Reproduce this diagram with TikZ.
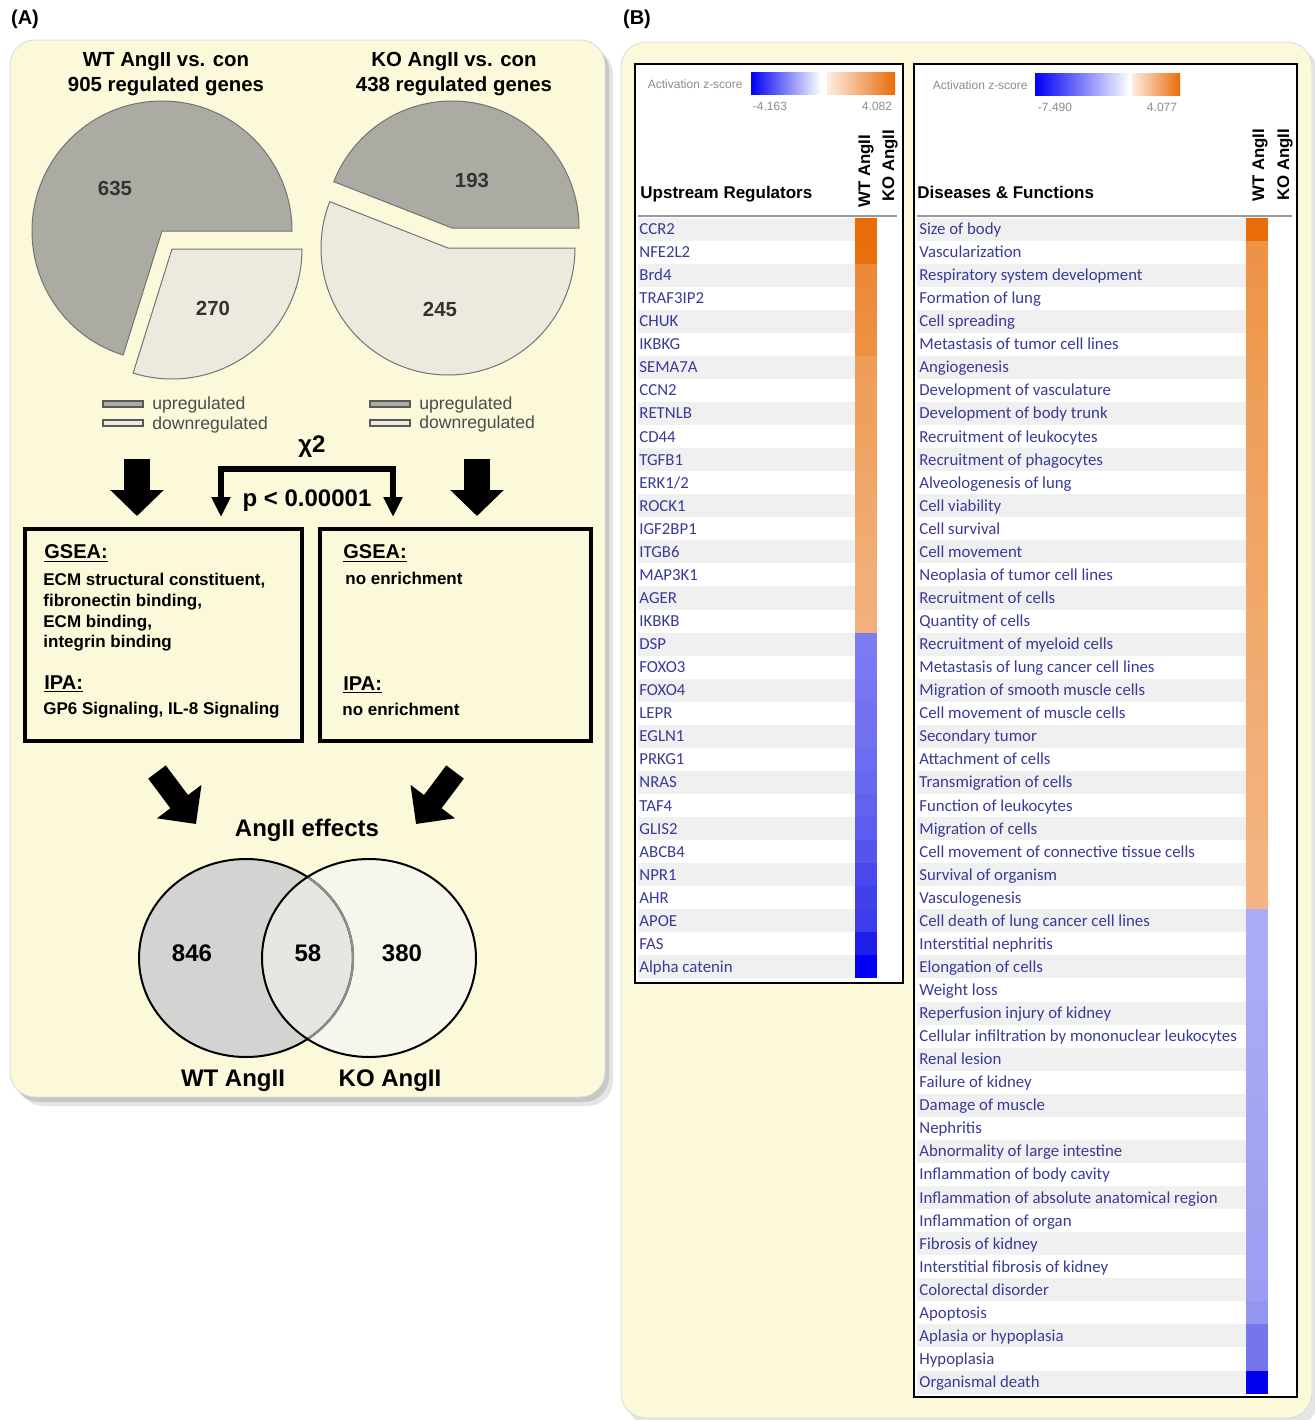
\documentclass[tikz,border=0pt]{standalone}
\usepackage{fontspec}
\setmainfont{Liberation Sans}
\newfontfamily\ipafont{Carlito}
\usepackage{tikz}
\usetikzlibrary{arrows.meta,calc,positioning}
\definecolor{PanelYellow}{RGB}{251,249,218}
\definecolor{SliceDark}{RGB}{171,171,164}
\definecolor{SliceLight}{RGB}{236,234,223}
\definecolor{VennDark}{RGB}{211,211,209}
\definecolor{VennMid}{RGB}{230,230,226}
\definecolor{VennLight}{RGB}{246,246,236}
\definecolor{RowBlue}{RGB}{58,58,152}
\definecolor{StripeGray}{RGB}{240,240,240}
\definecolor{ZOrange}{RGB}{233,108,10}
\definecolor{ZBlue}{RGB}{0,0,245}

\begin{document}
\begin{tikzpicture}[x=0.5pt,y=-0.5pt,
    paneltag/.style={font=\bfseries\fontsize{10}{12}\selectfont},
    headtxt/.style={font=\bfseries\fontsize{10.2}{12.5}\selectfont,align=center},
    pienum/.style={font=\bfseries\fontsize{10.2}{12}\selectfont,text=black!80},
    pieup/.style={fill=SliceDark,draw=black!55,line width=0.5pt},
    piedown/.style={fill=SliceLight,draw=black!55,line width=0.5pt},
    legtxt/.style={anchor=west,inner sep=0pt,font=\fontsize{8.8}{10}\selectfont,text=black!70},
    blockdown/.style={line width=13pt,-{Triangle[width=26pt,length=13pt]}},
    blockdiag/.style={line width=11pt,-{Triangle[width=27pt,length=14pt]}},
    resbox/.style={draw,line width=2pt,minimum height=106pt,inner sep=0pt},
    boxhead/.style={anchor=base west,inner sep=0pt,font=\bfseries\fontsize{10}{12}\selectfont},
    boxtxt/.style={anchor=north west,inner sep=0pt,align=left,font=\bfseries\fontsize{8.5}{10.35}\selectfont},
    bigtxt/.style={font=\bfseries\fontsize{12}{14}\selectfont},
    zlabel/.style={font=\fontsize{6}{7}\selectfont,text=black!45,inner sep=0pt},
    colhead/.style={rotate=90,anchor=west,inner sep=0pt,font=\bfseries\fontsize{8.4}{10}\selectfont},
    tablehead/.style={anchor=base west,inner sep=0pt,font=\bfseries\fontsize{8.5}{10}\selectfont},
    rowlabel/.style={anchor=base west,inner sep=0pt,font=\ipafont\fontsize{8.4}{9}\selectfont,text=RowBlue}]
\useasboundingbox (0,0) rectangle (1314,1420);

% panel backgrounds
\fill[black!10,rounded corners=12.5pt] (18,49) rectangle (613,1106);
\fill[black!22,rounded corners=12.5pt] (14,45) rectangle (609,1102);
\filldraw[fill=PanelYellow,draw=black!15,rounded corners=12.5pt] (10,40) rectangle (605,1097);
\fill[black!10,rounded corners=12.5pt] (627,48) rectangle (1318,1426);
\filldraw[fill=PanelYellow,draw=black!15,rounded corners=12.5pt] (621,42) rectangle (1312,1418);

\node[paneltag] (tagA) at (25,19) {(A)};
\node[paneltag] (tagB) at (637,19) {(B)};

% ---------- (A) pies
\node[headtxt] (wtTitle) at (166,74) {WT AngII vs. con\\905 regulated genes};
\node[headtxt] (koTitle) at (454,74) {KO AngII vs. con\\438 regulated genes};

\coordinate (wtUp) at (162,231);
\coordinate (wtDown) at (172,249);
\filldraw[pieup] (wtUp) -- ++(130,0) arc[start angle=0,end angle=-252.6,radius=130] -- cycle;
\filldraw[piedown] (wtDown) -- ++(130,0) arc[start angle=0,end angle=107.4,radius=130] -- cycle;
\coordinate (koUp) at (452,228);
\coordinate (koDown) at (448,248);
\filldraw[pieup] (koUp) -- ++(127,0) arc[start angle=0,end angle=-158.6,radius=127] -- cycle;
\filldraw[piedown] (koDown) -- ++(127,0) arc[start angle=0,end angle=201.4,radius=127] -- cycle;

\node[pienum] (n635) at (115,188) {635};
\node[pienum] (n270) at (213,308) {270};
\node[pienum] (n193) at (472,180) {193};
\node[pienum] (n245) at (440,309) {245};

% legends
\foreach \lx in {103,370}{
  \filldraw[fill=SliceDark,draw=black!65,line width=0.8pt] (\lx,401) rectangle ({\lx+40},407);
  \filldraw[fill=SliceLight,draw=black!65,line width=0.8pt] (\lx,420) rectangle ({\lx+40},426);
}
\node[legtxt] (wtLegUp) at (152,405) {upregulated};
\node[legtxt] (wtLegDown) at (152,425) {downregulated};
\node[legtxt] (koLegUp) at (419,405) {upregulated};
\node[legtxt] (koLegDown) at (419,424) {downregulated};

% chi2 bracket and block arrows
\node[bigtxt] (chi) at (312,447) {χ2};
\node[bigtxt] (pval) at (307,501) {p < 0.00001};
\coordinate (chiL) at (221,517);
\coordinate (chiR) at (393,517);
\draw[line width=3pt,line join=miter,{Triangle[width=9pt,length=10pt]}-{Triangle[width=9pt,length=10pt]}]
  (chiL) -- (221,469) -- (393,469) -- (chiR);

\coordinate (wtArrS) at (137,459);
\coordinate (wtArrE) at (137,516);
\coordinate (koArrS) at (477,459);
\coordinate (koArrE) at (477,516);
\draw[blockdown] (wtArrS) -- (wtArrE);
\draw[blockdown] (koArrS) -- (koArrE);

% result boxes
\node[resbox,minimum width=138.5pt] (wtBox) at (163,635) {};
\node[resbox,minimum width=135.5pt] (koBox) at (455.5,635) {};

\node[boxhead] (wtGsea) at (44,558) {\underline{GSEA:}};
\node[boxtxt] (wtGseaTxt) at (43,573) {ECM structural constituent,\\fibronectin binding,\\ECM binding,\\integrin binding};
\node[boxhead] (wtIpa) at (44,689) {\underline{IPA:}};
\node[boxtxt] (wtIpaTxt) at (43,702) {GP6 Signaling, IL-8 Signaling};

\node[boxhead] (koGsea) at (343,558) {\underline{GSEA:}};
\node[boxtxt] (koGseaTxt) at (345,572) {no enrichment};
\node[boxhead] (koIpa) at (343,690) {\underline{IPA:}};
\node[boxtxt] (koIpaTxt) at (342,703) {no enrichment};

% venn
\coordinate (wtDiagS) at (157,772);
\coordinate (wtDiagE) at (196,824);
\coordinate (koDiagS) at (455,772);
\coordinate (koDiagE) at (416,824);
\draw[blockdiag] (wtDiagS) -- (wtDiagE);
\draw[blockdiag] (koDiagS) -- (koDiagE);
\node[bigtxt] (effects) at (307,830) {AngII effects};

\coordinate (vWT) at (246,958);
\coordinate (vKO) at (369,958);
\fill[VennDark] (vWT) ellipse[x radius=107,y radius=99];
\fill[VennLight] (vKO) ellipse[x radius=107,y radius=99];
\begin{scope}
  \clip (vWT) ellipse[x radius=107,y radius=99];
  \fill[VennMid] (vKO) ellipse[x radius=107,y radius=99];
\end{scope}
\draw[line width=1pt] (vWT) ellipse[x radius=107,y radius=99];
\begin{scope}
  \clip (vKO) ellipse[x radius=107,y radius=99];
  \draw[black!45,line width=1.2pt] (vWT) ellipse[x radius=107,y radius=99];
\end{scope}
\draw[line width=1pt] (vKO) ellipse[x radius=107,y radius=99];

\node[bigtxt] (v846) at (192,953) {846};
\node[bigtxt] (v58) at (308,953) {58};
\node[bigtxt] (v380) at (402,953) {380};
\node[bigtxt] (vWTlbl) at (233,1081) {WT AngII};
\node[bigtxt] (vKOlbl) at (390,1081) {KO AngII};

% ---------- (B) upstream regulators
\filldraw[fill=white,line width=1pt] (635,64) rectangle (903,983);
\shade[left color=ZBlue,right color=white] (751,72) rectangle (821,94);
\shade[left color=ZOrange!12,right color=ZOrange] (827,72) rectangle (895,94);
\node[zlabel,anchor=east] (urZ) at (743,84) {Activation z-score};
\node[zlabel] (urMin) at (770,106) {-4.163};
\node[zlabel] (urMax) at (877,106) {4.082};
\node[tablehead] (urHead) at (640,198) {Upstream Regulators};
\node[colhead] (urWT) at (866,208) {WT AngII};
\node[colhead] (urKO) at (890,202) {KO AngII};
\draw[black!40,line width=0.8pt] (638,216) -- (897,216);

\foreach \t/\c [count=\i from 0] in {CCR2/E96C0A,NFE2L2/E96E0C,Brd4/EC8A3A,TRAF3IP2/EC8C3C,CHUK/ED8E3E,
  IKBKG/ED9040,SEMA7A/EF9E5A,CCN2/EFA05C,RETNLB/EFA05E,CD44/F0A260,TGFB1/F0A464,{ERK1/2}/F0A668,
  ROCK1/F1A86C,IGF2BP1/F1AA70,ITGB6/F1AC74,MAP3K1/F2AE78,AGER/F2AE78,IKBKB/F2B07C,DSP/7D7DF2,
  FOXO3/7878F2,FOXO4/7676F1,LEPR/7373F1,EGLN1/7070F0,PRKG1/6C6CF0,NRAS/6868EF,TAF4/6262EF,
  GLIS2/5C5CEE,ABCB4/5555ED,NPR1/4848EC,AHR/4141EB,APOE/3C3CEB,FAS/1E1EE8,Alpha catenin/0000F5}{
  \pgfmathsetmacro\ry{217.5+\i*23.06}
  \ifodd\i\else\fill[StripeGray] (638,\ry) rectangle (855,{\ry+23.06});\fi
  \definecolor{hc}{HTML}{\c}
  \fill[hc] (855,\ry) rectangle (877,{\ry+23.06});
  \node[rowlabel] (ur\i) at (639,{\ry+17}) {\t};
}

% ---------- (B) diseases & functions
\filldraw[fill=white,line width=1pt] (914,64) rectangle (1297,1397);
\shade[left color=ZBlue,right color=white] (1035,73) rectangle (1130,95);
\shade[left color=ZOrange!12,right color=ZOrange] (1132,73) rectangle (1180,95);
\node[zlabel,anchor=east] (dfZ) at (1028,85) {Activation z-score};
\node[zlabel] (dfMin) at (1055,107) {-7.490};
\node[zlabel] (dfMax) at (1162,107) {4.077};
\node[tablehead] (dfHead) at (917,198) {Diseases \& Functions};
\node[colhead] (dfWT) at (1260,202) {WT AngII};
\node[colhead] (dfKO) at (1285,201) {KO AngII};
\draw[black!40,line width=0.8pt] (917,216) -- (1292,216);

\foreach \t/\c [count=\i from 0] in {Size of body/E96C0A,Vascularization/ED9246,
  Respiratory system development/ED9448,Formation of lung/EE964B,Cell spreading/EE984E,
  Metastasis of tumor cell lines/EE9A50,Angiogenesis/EE9C54,Development of vasculature/EF9E58,
  Development of body trunk/EFA05A,Recruitment of leukocytes/EFA15C,Recruitment of phagocytes/EFA25E,
  Alveologenesis of lung/F0A360,Cell viability/F0A462,Cell survival/F0A564,Cell movement/F0A666,
  Neoplasia of tumor cell lines/F0A768,Recruitment of cells/F1A86A,Quantity of cells/F1A96C,
  Recruitment of myeloid cells/F1AA6E,Metastasis of lung cancer cell lines/F1AB70,
  Migration of smooth muscle cells/F1AC72,Cell movement of muscle cells/F1AD74,Secondary tumor/F2AE76,
  Attachment of cells/F2AF78,Transmigration of cells/F2B07A,Function of leukocytes/F2B17C,
  Migration of cells/F2B27E,Cell movement of connective tissue cells/F2B380,Survival of organism/F3B482,
  Vasculogenesis/F3B584,Cell death of lung cancer cell lines/ACACF6,Interstitial nephritis/ACACF6,
  Elongation of cells/AAAAF6,Weight loss/AAAAF5,Reperfusion injury of kidney/A8A8F5,
  Cellular infiltration by mononuclear leukocytes/A8A8F5,Renal lesion/A7A7F5,Failure of kidney/A6A6F4,
  Damage of muscle/A5A5F4,Nephritis/A4A4F4,Abnormality of large intestine/A3A3F4,
  Inflammation of body cavity/A2A2F3,Inflammation of absolute anatomical region/A1A1F3,
  Inflammation of organ/A0A0F3,Fibrosis of kidney/9F9FF3,Interstitial fibrosis of kidney/9E9EF2,
  Colorectal disorder/9C9CF2,Apoptosis/9494F1,Aplasia or hypoplasia/7676EC,Hypoplasia/7474EC,
  Organismal death/0000EE}{
  \pgfmathsetmacro\ry{217.5+\i*23.06}
  \ifodd\i\else\fill[StripeGray] (917,\ry) rectangle (1246,{\ry+23.06});\fi
  \definecolor{hc}{HTML}{\c}
  \fill[hc] (1246,\ry) rectangle (1268,{\ry+23.06});
  \node[rowlabel] (df\i) at (919,{\ry+17}) {\t};
}
\end{tikzpicture}
\end{document}
